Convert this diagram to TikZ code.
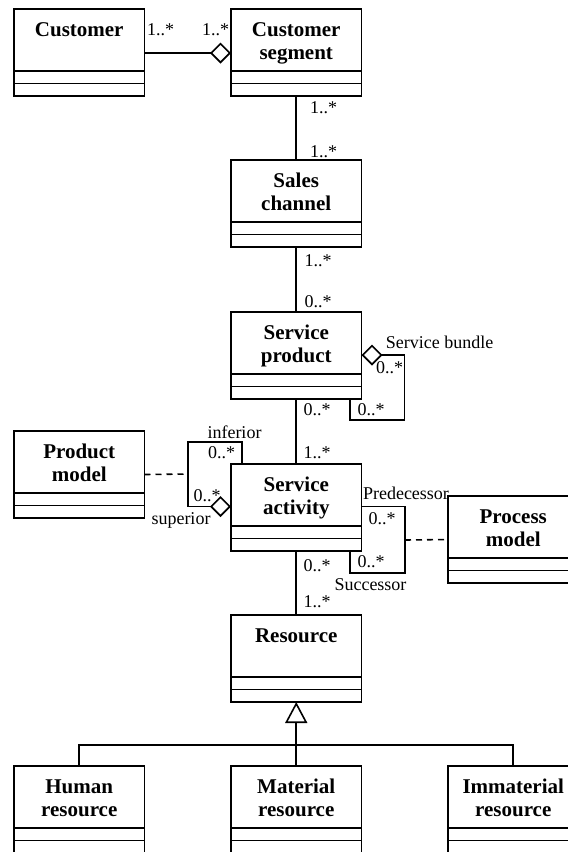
\documentclass[tikz,border=0pt]{standalone}
\usepackage{fontspec}
\setmainfont{Liberation Serif}
\usetikzlibrary{arrows.meta,calc}
\newcommand\classone[4]{%
  \node[classbox] (#1) at (#2,#3) {};
  \draw[boxline] ($(#1.north west)+(0,62)$) -- ($(#1.north east)+(0,62)$);
  \draw[boxline] ($(#1.north west)+(0,74.5)$) -- ($(#1.north east)+(0,74.5)$);
  \node[nametext] (#1-a) at ($(#1.north)+(0,27.5)$) {#4};
}
\newcommand\classtwo[5]{%
  \classone{#1}{#2}{#3}{#4}
  \node[nametext] (#1-b) at ($(#1.north)+(0,50)$) {#5};
}
\begin{document}
\begin{tikzpicture}[x=1pt,y=-1pt,
  classbox/.style={draw,line width=1.6pt,minimum width=130.5pt,minimum height=87pt,anchor=north west,inner sep=0pt,outer sep=0pt},
  boxline/.style={line width=1.6pt},
  nametext/.style={font=\fontsize{21}{23}\selectfont\bfseries,anchor=base,inner sep=0pt},
  mult/.style={font=\fontsize{18}{20}\selectfont,inner sep=0pt},
  conn/.style={line width=1.6pt},
  dep/.style={line width=1.6pt,dash pattern=on 6pt off 5pt},
  agg/.style={{Diamond[open,length=21pt,width=21pt]}},
]
\useasboundingbox (0,0) rectangle (568,852);
\clip (0,0) rectangle (568,852);

\classone{cust}{14}{9}{Customer}
\classtwo{seg}{231}{9}{Customer}{segment}
\classtwo{sales}{231}{160}{Sales}{channel}
\classtwo{sprod}{231}{312}{Service}{product}
\classtwo{sact}{231}{464}{Service}{activity}
\classtwo{pmod}{14}{431}{Product}{model}
\classtwo{procm}{448}{496}{Process}{model}
\classone{res}{231}{615}{Resource}
\classtwo{hres}{14}{766}{Human}{resource}
\classtwo{mres}{231}{766}{Material}{resource}
\classtwo{ires}{448}{766}{Immaterial}{resource}

% associations
\draw[conn,-{Diamond[open,length=21pt,width=21pt]}] ($(cust.north east)+(0,44)$) -- ($(seg.north west)+(0,44)$);
\draw[conn] (seg.south) -- (sales.north);
\draw[conn] (sales.south) -- (sprod.north);
\draw[conn] (sprod.south) -- (sact.north);
\draw[conn] (sact.south) -- (res.north);

% service bundle loop
\draw[conn,{Diamond[open,length=21pt,width=21pt]}-] ($(sprod.north east)+(0,43)$) -| ($(sprod.south east)+(43,21)$) -| ($(sprod.south)+(54,0)$);

% inferior / superior loop
\coordinate (infloop) at ($(sact.north west)+(-43,10)$);
\draw[conn,-{Diamond[open,length=21pt,width=21pt]}] ($(sact.north west)+(11,0)$) -- ++(0,-22) -| ($(sact.north west)+(-43,42.5)$) -- ($(sact.north west)+(0,42.5)$);
\draw[dep] (pmod.east) -- (infloop);

% predecessor / successor loop
\coordinate (predloop) at ($(sact.south east)+(43.5,-11)$);
\draw[conn] ($(sact.north east)+(0,42.5)$) -| ($(sact.south east)+(43.5,22)$) -| ($(sact.south)+(54,0)$);
\draw[dep] (predloop) -- (procm.west);

% generalization
\coordinate (bar) at ($(res.south)+(0,43)$);
\draw[conn,-{Triangle[open,length=21pt,width=22pt]}] (mres.north) -- (res.south);
\draw[conn] (hres.north) |- (bar) -| (ires.north);

% multiplicities and roles
\node[mult] (m1) at (160.5,30) {1..*};
\node[mult] (m2) at (215.5,30) {1..*};
\node[mult] (m3) at (323.5,108) {1..*};
\node[mult] (m4) at (323.5,152) {1..*};
\node[mult] (m5) at (318,261) {1..*};
\node[mult] (m6) at (318,302) {0..*};
\node[mult] (m7) at (317,410) {0..*};
\node[mult] (m8) at (317,453) {1..*};
\node[mult] (m9) at (317,566) {0..*};
\node[mult] (m10) at (317,602) {1..*};
\node[mult] (sb) at (439.5,342) {Service bundle};
\node[mult] (m11) at (389.5,368) {0..*};
\node[mult] (m12) at (371,410) {0..*};
\node[mult] (inf) at (234.5,432) {inferior};
\node[mult] (m13) at (221.5,453) {0..*};
\node[mult] (m14) at (207,496) {0..*};
\node[mult] (sup) at (181,520) {superior};
\node[mult] (pred) at (406,493) {Predecessor};
\node[mult] (m15) at (382,519) {0..*};
\node[mult] (m16) at (371,562) {0..*};
\node[mult] (succ) at (370.5,585) {Successor};
\end{tikzpicture}
\end{document}
